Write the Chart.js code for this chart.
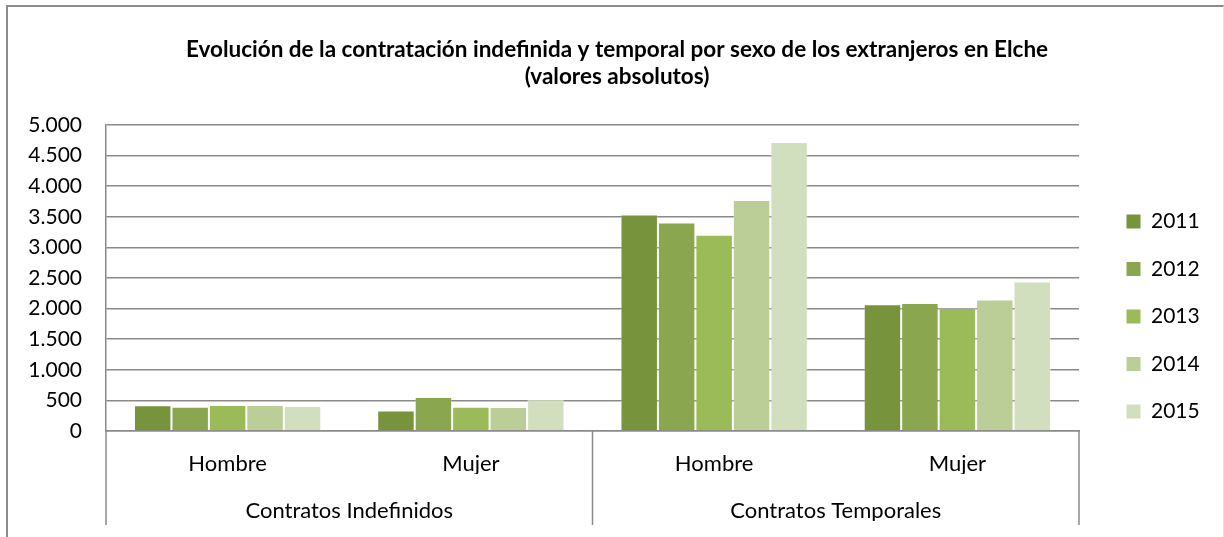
<!DOCTYPE html>
<html>
<head>
<meta charset="utf-8">
<script src="https://cdn.jsdelivr.net/npm/chart.js@4.4.1/dist/chart.umd.min.js"></script>
<style>
  body { margin: 0; background: #ffffff; }
  #wrap { position: relative; width: 1224px; height: 537px; overflow: hidden; }
  #frame { position: absolute; left: 6px; top: 5px; width: 1215px; height: 600px;
           border-left: 2px solid #8c8c8c; border-top: 2px solid #8c8c8c; border-right: 1px solid #e2e2e2; }
  #chart { position: absolute; left: 0; top: 0; }
</style>
</head>
<body>
<div id="wrap">
  <div id="frame"></div>
  <canvas id="chart" width="1224" height="537"></canvas>
</div>
<script>
// Data
const sexLabels = ['Hombre', 'Mujer', 'Hombre', 'Mujer']; // inner categories
const contractLabels = ['Contratos Indefinidos', 'Contratos Temporales']; // outer categories
const years = ['2011', '2012', '2013', '2014', '2015']; // legend / series names
const values2011 = [421, 333, 3536, 2071];
const values2012 = [398, 557, 3405, 2093];
const values2013 = [426, 398, 3208, 2011];
const values2014 = [425, 393, 3775, 2148];
const values2015 = [410, 520, 4721, 2443];
const yTickLabels = ['0', '500', '1.000', '1.500', '2.000', '2.500', '3.000', '3.500', '4.000', '4.500', '5.000'];
const titleLines = ['Evolución de la contratación indefinida y temporal por sexo de los extranjeros en Elche', '(valores absolutos)'];

const seriesColors = ['#77933c', '#8aa64f', '#9bbb59', '#bbce97', '#d2dfbe']; // dark to light green
const gridColor = '#8a8a8a';
const fontFamily = 'Lato, "Open Sans", sans-serif';

const allValues = [values2011, values2012, values2013, values2014, values2015];

//draws the vertical separators under the x axis (group borders)
const groupLines = {
    id: 'groupLines',
    afterDraw(chart) {
        const outer = chart.scales.x2;
        const step = outer.getPixelForValue(1) - outer.getPixelForValue(0);
        const ctx = chart.ctx;
        ctx.save();
        ctx.strokeStyle = gridColor;
        ctx.lineWidth = 1.5;
        for (let i = 0; i <= contractLabels.length; i++) {
            const x = outer.getPixelForValue(0) - step / 2 + i * step;
            ctx.beginPath();
            ctx.moveTo(x, chart.chartArea.bottom);
            ctx.lineTo(x, outer.bottom + 4);
            ctx.stroke();
        }
        ctx.restore();
    }
};

//widen legend box and move its items to where the picture has them
const legendShift = {
    id: 'legendShift',
    beforeInit(chart) {
        const lg = chart.legend;
        const origFit = lg.fit;
        lg.fit = function () {
            origFit.call(this);
            this.width = 145;
        };
    },
    afterLayout(chart) {
        const lg = chart.legend;
        lg.left += 21;
        lg.right += 21;
        lg.top += 56;
        lg.bottom += 56;
    }
};

const ctx = document.getElementById('chart').getContext('2d');
new Chart(ctx, {
    type: 'bar',
    data: {
        labels: sexLabels,
        datasets: years.map((y, i) => ({
            label: y,
            data: allValues[i],
            backgroundColor: seriesColors[i],
            borderColor: 'rgba(255,255,255,0.25)',
            borderWidth: 1,
            categoryPercentage: 0.77,
            barPercentage: 1.0
        }))
    },
    options: {
        responsive: false,
        animation: false,
        layout: { padding: { left: 10, right: 0, top: 0, bottom: 16 } },
        plugins: {
            title: {
                display: true,
                text: titleLines,
                color: '#000000',
                font: { family: fontFamily, size: 22.5, weight: 'bold', lineHeight: 1.2 },
                padding: { top: 36, bottom: 35 }
            },
            legend: {
                position: 'right',
                labels: {
                    color: '#000000',
                    font: { family: fontFamily, size: 21 },
                    boxWidth: 14,
                    boxHeight: 14,
                    padding: 26.5,
                    generateLabels(chart) { // plain squares, no border
                        return chart.data.datasets.map((ds, i) => ({
                            text: ds.label,
                            fillStyle: ds.backgroundColor,
                            strokeStyle: ds.backgroundColor,
                            lineWidth: 0,
                            hidden: false,
                            datasetIndex: i
                        }));
                    }
                }
            },
            tooltip: { enabled: false }
        },
        scales: {
            x: {
                afterFit(scale) { scale.height = 43; },
                grid: { display: false, drawTicks: false },
                border: { display: true, color: gridColor, width: 1.5 },
                ticks: { color: '#000000', font: { family: fontFamily, size: 22 }, padding: 20 }
            },
            x2: {
                type: 'category',
                labels: contractLabels,
                position: 'bottom',
                weight: 1,
                afterFit(scale) { scale.height = 47; },
                grid: { display: false, drawTicks: false },
                border: { display: false },
                ticks: { color: '#000000', font: { family: fontFamily, size: 22 }, padding: 24 }
            },
            y: {
                min: 0,
                max: 5000,
                afterFit(scale) { scale.width = 96; },
                grid: { color: gridColor, lineWidth: 1.5, drawTicks: false },
                border: { display: true, color: gridColor, width: 1.5 },
                ticks: {
                    stepSize: 500,
                    autoSkip: false,
                    color: '#000000',
                    font: { family: fontFamily, size: 21 },
                    padding: 24,
                    callback: (v, i) => yTickLabels[i]
                }
            }
        }
    },
    plugins: [groupLines, legendShift]
});
</script>
</body>
</html>
